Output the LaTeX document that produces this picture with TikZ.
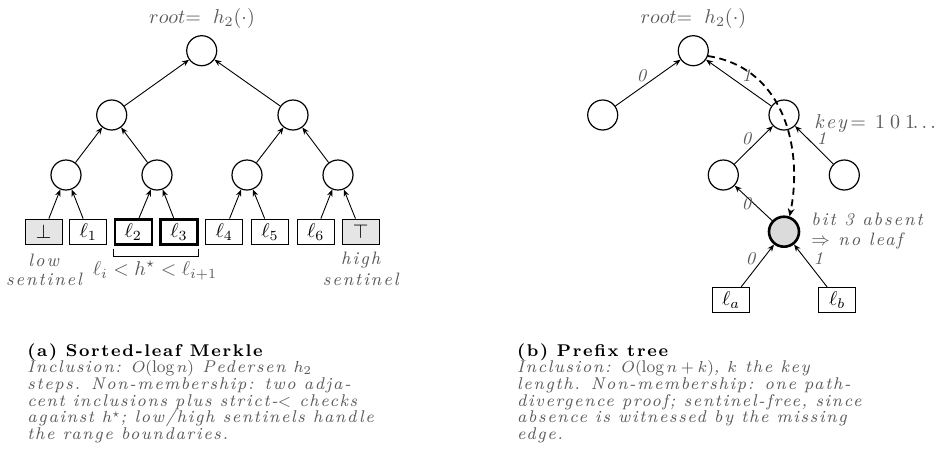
\documentclass[tikz,border=0pt]{standalone}
\usepackage{fontspec}
\usepackage{amssymb}
\usetikzlibrary{arrows.meta}
\newfontfamily\spc{Latin Modern Roman}[LetterSpace=10]
\newfontfamily\spn{Latin Modern Roman}[LetterSpace=11]
\newfontfamily\spk{Latin Modern Roman}[LetterSpace=25]
\newfontfamily\spd{Latin Modern Roman}[LetterSpace=16]
\definecolor{txtgray}{gray}{0.35}
\definecolor{leafgray}{gray}{0.9}
\definecolor{nodegray}{gray}{0.86}
\begin{document}
\begin{tikzpicture}[x=0.5pt,y=-0.5pt,
  inode/.style={circle,draw,line width=0.6pt,minimum size=15pt,inner sep=0pt},
  gapnode/.style={inode,line width=1.3pt,fill=nodegray},
  leafbox/.style={draw,line width=0.6pt,minimum width=18.5pt,minimum height=12.5pt,inner sep=0pt},
  hitbox/.style={leafbox,line width=1.3pt},
  sentbox/.style={leafbox,fill=leafgray},
  edge/.style={-{Stealth[length=3.5pt,width=2.8pt]},line width=0.45pt},
  dashflow/.style={-{Stealth[length=4pt,width=3.4pt]},line width=0.9pt,dash pattern=on 3.5pt off 2.3pt},
  note/.style={text=txtgray,font=\spn\itshape\fontsize{9}{10.5}\selectfont,inner sep=0pt},
  bitlbl/.style={note},
  mathlbl/.style={text=txtgray,inner sep=0pt},
  capline/.style={anchor=base west,inner sep=0pt,text=txtgray,font=\spc\itshape\fontsize{8.5}{8.35}\selectfont},
  caphead/.style={anchor=base west,inner sep=0pt,font=\spc\bfseries\fontsize{8.5}{8.35}\selectfont},
]
\useasboundingbox (0,0) rectangle (943,462);

% ---------------- (a) Sorted-leaf Merkle ----------------
\node[mathlbl] (ra-lbl) at (202,18) {$root{=}\ \;h_2(\cdot)$};
\node[inode] (ra) at (201.7,50.7) {};
\node[inode] (a1) at (111.7,115) {};
\node[inode] (a2) at (293,115) {};
\node[inode] (a11) at (66,175) {};
\node[inode] (a12) at (157,175) {};
\node[inode] (a21) at (247,175) {};
\node[inode] (a22) at (338,175) {};

\node[sentbox] (lo) at (43.7,231.7) {$\bot$};
\node[leafbox] (l1) at (88.3,231.7) {$\ell_1$};
\node[hitbox]  (l2) at (133.3,231.7) {$\ell_2$};
\node[hitbox]  (l3) at (179,231.7) {$\ell_3$};
\node[leafbox] (l4) at (224.3,231.7) {$\ell_4$};
\node[leafbox] (l5) at (270,231.7) {$\ell_5$};
\node[leafbox] (l6) at (315.7,231.7) {$\ell_6$};
\node[sentbox] (hi) at (360.7,231.7) {$\top$};

\draw[edge] (lo) -- (a11);
\draw[edge] (l1) -- (a11);
\draw[edge] (l2) -- (a12);
\draw[edge] (l3) -- (a12);
\draw[edge] (l4) -- (a21);
\draw[edge] (l5) -- (a21);
\draw[edge] (l6) -- (a22);
\draw[edge] (hi) -- (a22);
\draw[edge] (a11) -- (a1);
\draw[edge] (a12) -- (a1);
\draw[edge] (a21) -- (a2);
\draw[edge] (a22) -- (a2);
\draw[edge] (a1) -- (ra);
\draw[edge] (a2) -- (ra);

\draw[line width=0.6pt] ([yshift=-1.7pt]l2.south west) |- ([yshift=-5.5pt]l3.south east) -- ([yshift=-1.7pt]l3.south east);
\node[mathlbl] (brk) at (155,270.5) {$\ell_i < h^\star < \ell_{i+1}$};

\node[note] (low1) at (43.7,260) {low};
\node[note] (low2) at (44,279.5) {sentinel};
\node[note] (high1) at (360.7,260) {high};
\node[note] (high2) at (360.7,279.5) {sentinel};

\node[caphead] (capa) at (27,356) {(a) Sorted-leaf Merkle};
\node[capline] (ca1) at (27,372.7) {Inclusion: $O(\log n)$ Pedersen $h_2$};
\node[capline] (ca2) at (27,389.4) {steps. Non-membership: two adja-};
\node[capline] (ca3) at (27,406.1) {cent inclusions plus strict-$<$ checks};
\node[capline] (ca4) at (27,422.8) {against $h^\star$; low/high sentinels handle};
\node[capline] (ca5) at (27,439.5) {the range boundaries.};

% ---------------- (b) Prefix tree ----------------
\node[mathlbl] (rb-lbl) at (693.3,18) {$root{=}\ \;h_2(\cdot)$};
\node[inode] (rb) at (693.3,50.7) {};
\node[inode] (b0) at (602.7,115) {};
\node[inode] (b1) at (784,115) {};
\node[inode] (b10) at (723.3,175) {};
\node[inode] (b11) at (844.3,175) {};
\node[gapnode] (gx) at (784,231.7) {};
\node[leafbox] (la) at (731,300) {$\ell_a$};
\node[leafbox] (lb) at (837.3,300) {$\ell_b$};

\draw[edge] (b0) -- (rb);
\draw[edge] (b1) -- (rb);
\draw[edge] (b10) -- (b1);
\draw[edge] (b11) -- (b1);
\draw[edge] (gx) -- (b10);
\draw[edge] (la) -- (gx);
\draw[edge] (lb) -- (gx);

\node[bitlbl] (e1) at (641.7,76) {0};
\node[bitlbl] (e2) at (746.7,75) {1};
\node[bitlbl] (e3) at (746.7,138.3) {0};
\node[bitlbl] (e4) at (821.7,138.5) {1};
\node[bitlbl] (e5) at (746.7,203.3) {0};
\node[bitlbl] (e6) at (750.7,258.3) {0};
\node[bitlbl] (e7) at (818.3,258.3) {1};

\draw[dashflow] (rb.-20) .. controls (785,68) and (803,150) .. (gx.70);

\node[note,anchor=west,font=\spn\itshape\fontsize{10}{12}\selectfont] (keylbl) at (814,123.5) {key\,$=$\ {\spk\upshape 101}\hspace{-1.2pt}{\spd\upshape ...}};
\node[note,anchor=west] (abs1) at (811,219.5) {bit 3 absent};
\node[note,anchor=west] (abs2) at (811,240.5) {$\Rightarrow$ no leaf};

\node[caphead] (capb) at (516.7,356) {(b) Prefix tree};
\node[capline] (cb1) at (516.7,372.7) {Inclusion: $O(\log n + k)$, $k$ the key};
\node[capline] (cb2) at (516.7,389.4) {length. Non-membership: one path-};
\node[capline] (cb3) at (516.7,406.1) {divergence proof; sentinel-free, since};
\node[capline] (cb4) at (516.7,422.8) {absence is witnessed by the missing};
\node[capline] (cb5) at (516.7,439.5) {edge.};
\end{tikzpicture}
\end{document}
